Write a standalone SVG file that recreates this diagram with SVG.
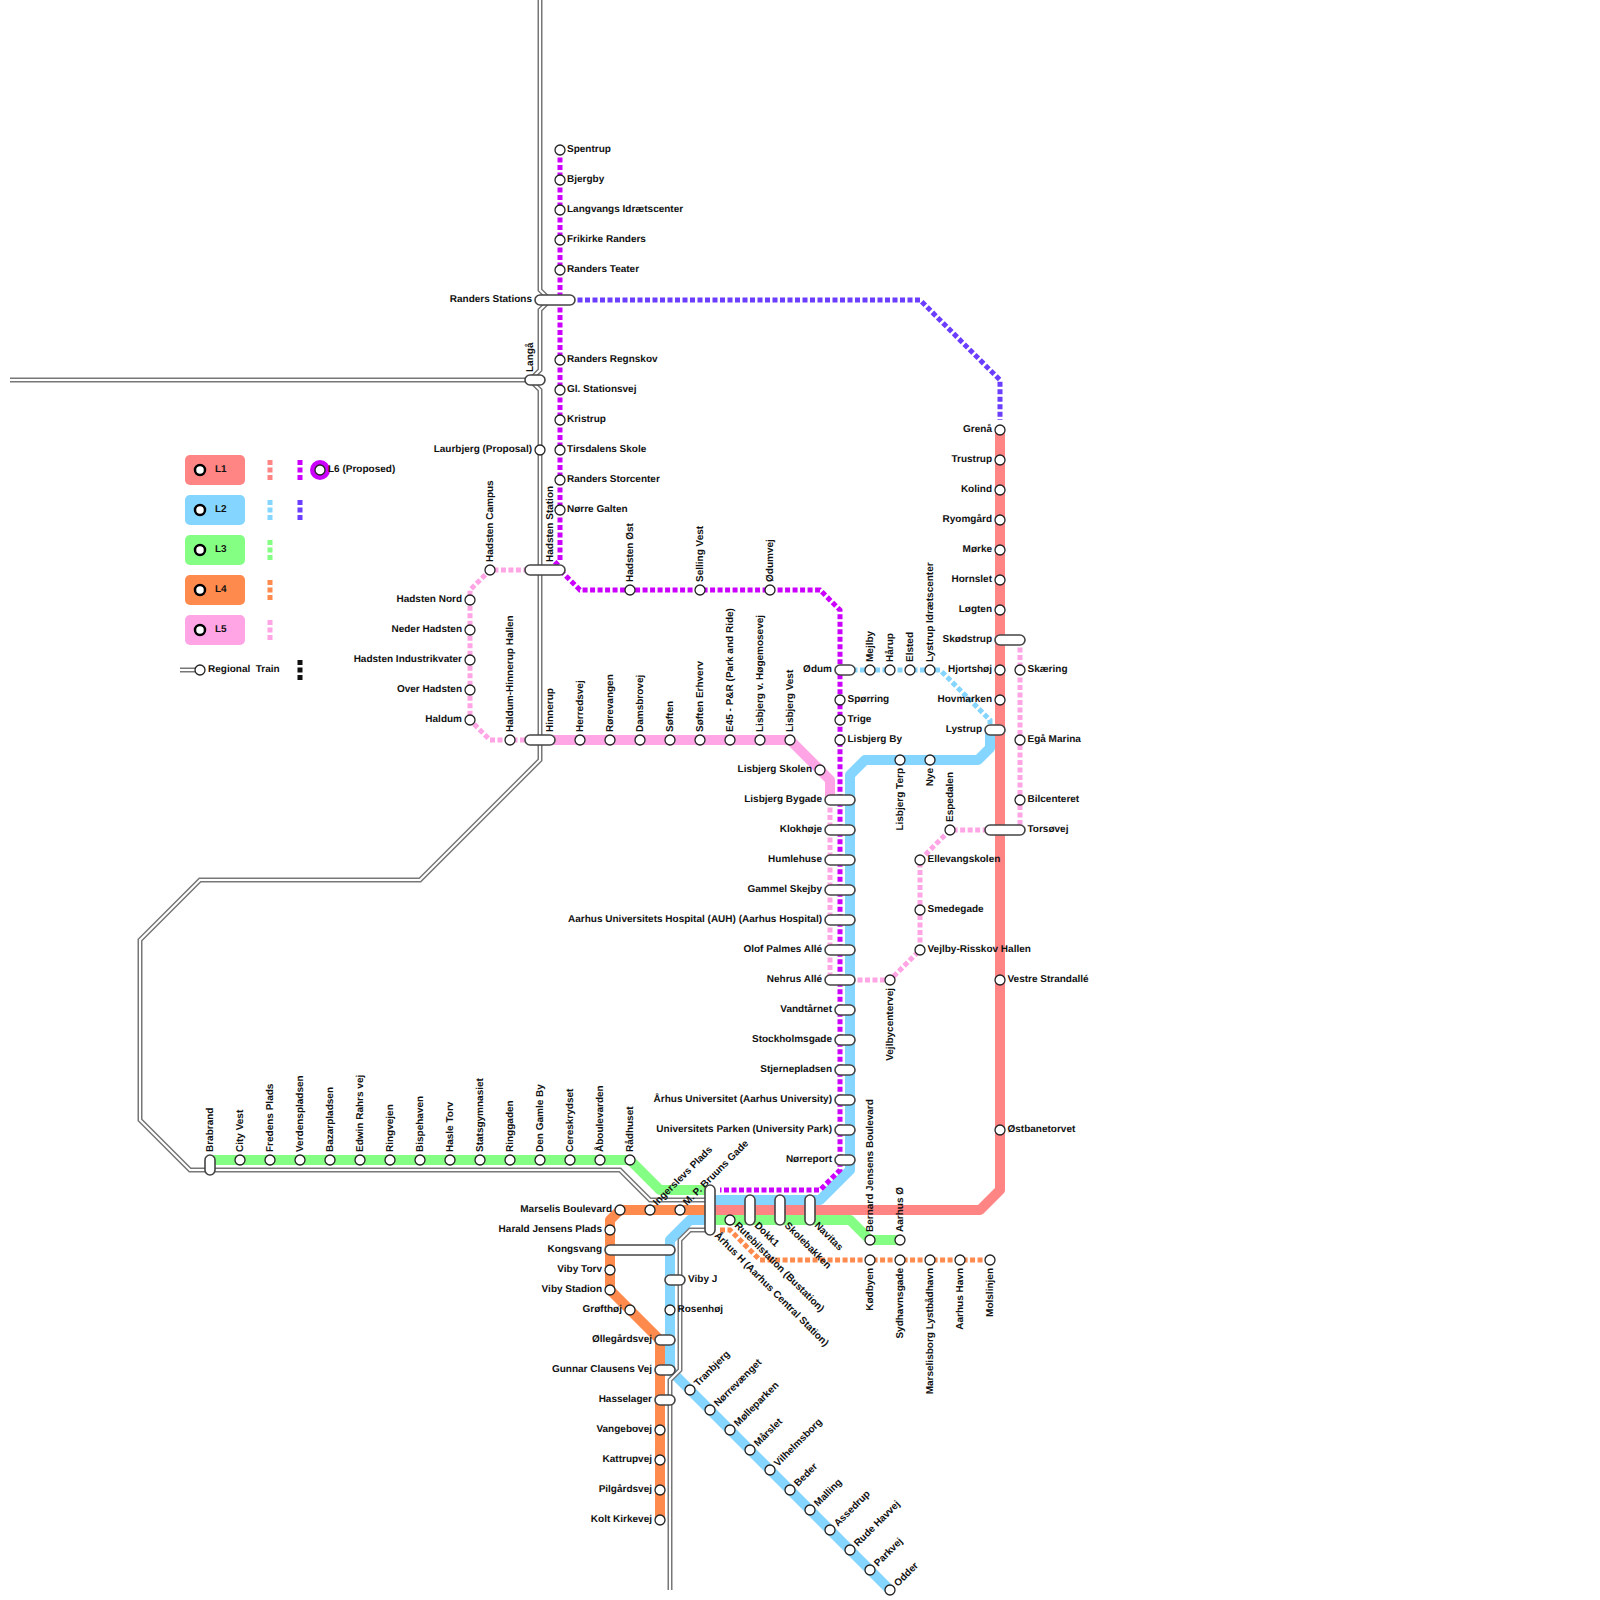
<svg xmlns="http://www.w3.org/2000/svg" width="1600" height="1600" viewBox="0 0 1600 1600">
<style>
text{font-family:"Liberation Sans",Arial,sans-serif;font-size:10px;font-weight:700;fill:#111;white-space:pre;text-rendering:geometricPrecision}
.e{text-anchor:end}
.ln{fill:none;stroke-linejoin:round;stroke-linecap:round;stroke-width:10}
.da{fill:none;stroke-width:5;stroke-dasharray:5 2.5}
.l1{stroke:#ff8484}.l2{stroke:#84d5ff}.l3{stroke:#84ff84}.l4{stroke:#ff8a4d}.l5{stroke:#ffa5e6}.l6{stroke:#cc00ff}.l7{stroke:#6a3dff}.l8{stroke:#111}
.ra{fill:none;stroke:#777;stroke-width:5;stroke-linejoin:miter}
.rb{fill:none;stroke:#fff;stroke-width:2;stroke-linejoin:miter}
circle{fill:#fff;stroke:#222;stroke-width:1.3}
.i{fill:#fff;stroke:#444;stroke-width:1.6}
.k{stroke:#000;stroke-width:2.5}
</style>
<defs>
<path id="rail" d="M540 0V290L550 300L540 310V370L530 380L540 390V760L420 880H200L140 940V1120L190 1170H620L650 1200H710M10 380H530M710 1230H690L680 1240V1370L670 1380V1590"/>
</defs>
<g id="connectors">
<path class="ln l2" d="M990 730V748L978 760H865L850 775V1170L820 1200H710"/>
<path class="ln l2" d="M710 1220H690L670 1240V1370L890 1590"/>
<path class="ln l3" d="M210 1160H630L660 1190H710"/>
<path class="ln l3" d="M710 1220H850L870 1240H900"/>
<path class="ln l1" d="M1000 430V1190L980 1210H710"/>
<path class="ln l4" d="M705 1210H620L610 1220V1290L660 1340V1520"/>
<path class="ln l5" d="M540 740H790L830 780V800"/>
<path class="da l2" d="M845 670H940L990 720V730"/>
<path class="da l4" d="M720 1230H730L760 1260H990"/>
<path class="da l5" d="M830 800V980"/>
<path class="da l5" d="M850 980H890L920 950V860L950 830H1000"/>
<path class="da l5" d="M1020 640V830"/>
<path class="da l5" d="M540 740H490L470 720V590L490 570H540"/>
<path class="da l6" d="M560 150V560L550 570H560L580 590H820L840 610V1170L820 1190H720"/>
<path class="da l7" d="M570 300H920L1000 380V420"/>
<use href="#rail" class="ra"/>
<use href="#rail" class="rb"/>
</g>
<g id="legend">
<rect x="185" y="455" width="60" height="30" rx="5" fill="#ff8484"/>
<rect x="185" y="495" width="60" height="30" rx="5" fill="#84d5ff"/>
<rect x="185" y="535" width="60" height="30" rx="5" fill="#84ff84"/>
<rect x="185" y="575" width="60" height="30" rx="5" fill="#ff8a4d"/>
<rect x="185" y="615" width="60" height="30" rx="5" fill="#ffa5e6"/>
<circle class="k" cx="200" cy="470" r="5"/><text x="215" y="472">L1</text>
<circle class="k" cx="200" cy="510" r="5"/><text x="215" y="512">L2</text>
<circle class="k" cx="200" cy="550" r="5"/><text x="215" y="552">L3</text>
<circle class="k" cx="200" cy="590" r="5"/><text x="215" y="592">L4</text>
<circle class="k" cx="200" cy="630" r="5"/><text x="215" y="632">L5</text>
<path class="da l1" d="M270 460V480"/><path class="da l2" d="M270 500V520"/><path class="da l3" d="M270 540V560"/><path class="da l4" d="M270 580V600"/><path class="da l5" d="M270 620V640"/>
<path class="da l6" d="M300 460V480"/><path class="da l7" d="M300 500V520"/><path class="da l8" d="M300 660V680"/>
<circle cx="320" cy="470" r="10" style="fill:#cc00ff;stroke:none"/><circle cx="320" cy="470" r="5"/><text x="328" y="472">L6 (Proposed)</text>
<path class="ra" d="M180 670H200"/><path class="rb" d="M180 670H200"/>
<circle cx="200" cy="670" r="5"/><text x="208" y="672">Regional  Train</text>
</g>
<g id="nodes">
<g id="spentrup"><circle cx="560" cy="150" r="5"/><text x="567" y="152">Spentrup</text></g>
<g id="bjergby"><circle cx="560" cy="180" r="5"/><text x="567" y="182">Bjergby</text></g>
<g id="langvangs"><circle cx="560" cy="210" r="5"/><text x="567" y="212">Langvangs Idrætscenter</text></g>
<g id="frikirke"><circle cx="560" cy="240" r="5"/><text x="567" y="242">Frikirke Randers</text></g>
<g id="teater"><circle cx="560" cy="270" r="5"/><text x="567" y="272">Randers Teater</text></g>
<g id="randers"><rect class="i" x="535" y="295" width="40" height="10" rx="5"/><text class="e" x="532" y="302">Randers Stations</text></g>
<g id="langa"><rect class="i" x="525" y="375" width="20" height="10" rx="5"/><text transform="translate(533 372) rotate(-90)">Langå</text></g>
<g id="regnskov"><circle cx="560" cy="360" r="5"/><text x="567" y="362">Randers Regnskov</text></g>
<g id="gl"><circle cx="560" cy="390" r="5"/><text x="567" y="392">Gl. Stationsvej</text></g>
<g id="kristrup"><circle cx="560" cy="420" r="5"/><text x="567" y="422">Kristrup</text></g>
<g id="tirsdalens"><circle cx="560" cy="450" r="5"/><text x="567" y="452">Tirsdalens Skole</text></g>
<g id="storcenter"><circle cx="560" cy="480" r="5"/><text x="567" y="482">Randers Storcenter</text></g>
<g id="galten"><circle cx="560" cy="510" r="5"/><text x="567" y="512">Nørre Galten</text></g>
<g id="laurbjerg"><circle cx="540" cy="450" r="5"/><text class="e" x="532" y="452">Laurbjerg (Proposal)</text></g>
<g id="hadsten"><rect class="i" x="525" y="565" width="40" height="10" rx="5"/><text transform="translate(553 562) rotate(-90)">Hadsten Station</text></g>
<g id="hcampus"><circle cx="490" cy="570" r="5"/><text transform="translate(493 562) rotate(-90)">Hadsten Campus</text></g>
<g id="hnord"><circle cx="470" cy="600" r="5"/><text class="e" x="462" y="602">Hadsten Nord</text></g>
<g id="neder"><circle cx="470" cy="630" r="5"/><text class="e" x="462" y="632">Neder Hadsten</text></g>
<g id="hind"><circle cx="470" cy="660" r="5"/><text class="e" x="462" y="662">Hadsten Industrikvater</text></g>
<g id="over"><circle cx="470" cy="690" r="5"/><text class="e" x="462" y="692">Over Hadsten</text></g>
<g id="haldum"><circle cx="470" cy="720" r="5"/><text class="e" x="462" y="722">Haldum</text></g>
<g id="hhh"><circle cx="510" cy="740" r="5"/><text transform="translate(513 732) rotate(-90)">Haldum-Hinnerup Hallen</text></g>
<g id="hinnerup"><rect class="i" x="525" y="735" width="30" height="10" rx="5"/><text transform="translate(553 732) rotate(-90)">Hinnerup</text></g>
<g id="herredsvej"><circle cx="580" cy="740" r="5"/><text transform="translate(583 732) rotate(-90)">Herredsvej</text></g>
<g id="rorevangen"><circle cx="610" cy="740" r="5"/><text transform="translate(613 732) rotate(-90)">Rørevangen</text></g>
<g id="damsbrovej"><circle cx="640" cy="740" r="5"/><text transform="translate(643 732) rotate(-90)">Damsbrovej</text></g>
<g id="soften"><circle cx="670" cy="740" r="5"/><text transform="translate(673 732) rotate(-90)">Søften</text></g>
<g id="softene"><circle cx="700" cy="740" r="5"/><text transform="translate(703 732) rotate(-90)">Søften Erhverv</text></g>
<g id="e45"><circle cx="730" cy="740" r="5"/><text transform="translate(733 732) rotate(-90)">E45 - P&amp;R (Park and Ride)</text></g>
<g id="hogemose"><circle cx="760" cy="740" r="5"/><text transform="translate(763 732) rotate(-90)">Lisbjerg v. Høgemosevej</text></g>
<g id="lvest"><circle cx="790" cy="740" r="5"/><text transform="translate(793 732) rotate(-90)">Lisbjerg Vest</text></g>
<g id="hoest"><circle cx="630" cy="590" r="5"/><text transform="translate(633 582) rotate(-90)">Hadsten Øst</text></g>
<g id="selling"><circle cx="700" cy="590" r="5"/><text transform="translate(703 582) rotate(-90)">Selling Vest</text></g>
<g id="odumvej"><circle cx="770" cy="590" r="5"/><text transform="translate(773 582) rotate(-90)">Ødumvej</text></g>
<g id="odum"><rect class="i" x="835" y="665" width="20" height="10" rx="5"/><text class="e" x="832" y="672">Ødum</text></g>
<g id="mejlby"><circle cx="870" cy="670" r="5"/><text transform="translate(873 662) rotate(-90)">Mejlby</text></g>
<g id="harup"><circle cx="890" cy="670" r="5"/><text transform="translate(893 662) rotate(-90)">Hårup</text></g>
<g id="elsted"><circle cx="910" cy="670" r="5"/><text transform="translate(913 662) rotate(-90)">Elsted</text></g>
<g id="lidr"><circle cx="930" cy="670" r="5"/><text transform="translate(933 662) rotate(-90)">Lystrup Idrætscenter</text></g>
<g id="sporring"><circle cx="840" cy="700" r="5"/><text x="847.500" y="702">Spørring</text></g>
<g id="trige"><circle cx="840" cy="720" r="5"/><text x="847.500" y="722">Trige</text></g>
<g id="lby"><circle cx="840" cy="740" r="5"/><text x="847.500" y="742">Lisbjerg By</text></g>
<g id="lskolen"><circle cx="820" cy="770" r="5"/><text class="e" x="812" y="772">Lisbjerg Skolen</text></g>
<g id="lbygade"><rect class="i" x="825" y="795" width="30" height="10" rx="5"/><text class="e" x="822" y="802">Lisbjerg Bygade</text></g>
<g id="klokhoje"><rect class="i" x="825" y="825" width="30" height="10" rx="5"/><text class="e" x="822" y="832">Klokhøje</text></g>
<g id="humle"><rect class="i" x="825" y="855" width="30" height="10" rx="5"/><text class="e" x="822" y="862">Humlehuse</text></g>
<g id="gskejby"><rect class="i" x="825" y="885" width="30" height="10" rx="5"/><text class="e" x="822" y="892">Gammel Skejby</text></g>
<g id="auh"><rect class="i" x="825" y="915" width="30" height="10" rx="5"/><text class="e" x="822" y="922">Aarhus Universitets Hospital (AUH) (Aarhus Hospital)</text></g>
<g id="olof"><rect class="i" x="825" y="945" width="30" height="10" rx="5"/><text class="e" x="822" y="952">Olof Palmes Allé</text></g>
<g id="nehrus"><rect class="i" x="825" y="975" width="30" height="10" rx="5"/><text class="e" x="822" y="982">Nehrus Allé</text></g>
<g id="vand"><rect class="i" x="835" y="1005" width="20" height="10" rx="5"/><text class="e" x="832" y="1012">Vandtårnet</text></g>
<g id="stock"><rect class="i" x="835" y="1035" width="20" height="10" rx="5"/><text class="e" x="832" y="1042">Stockholmsgade</text></g>
<g id="stjerne"><rect class="i" x="835" y="1065" width="20" height="10" rx="5"/><text class="e" x="832" y="1072">Stjernepladsen</text></g>
<g id="auni"><rect class="i" x="835" y="1095" width="20" height="10" rx="5"/><text class="e" x="832" y="1102">Århus Universitet (Aarhus University)</text></g>
<g id="upark"><rect class="i" x="835" y="1125" width="20" height="10" rx="5"/><text class="e" x="832" y="1132">Universitets Parken (University Park)</text></g>
<g id="norreport"><rect class="i" x="835" y="1155" width="20" height="10" rx="5"/><text class="e" x="832" y="1162">Nørreport</text></g>
<g id="grena"><circle cx="1000" cy="430" r="5"/><text class="e" x="992" y="432">Grenå</text></g>
<g id="trustrup"><circle cx="1000" cy="460" r="5"/><text class="e" x="992" y="462">Trustrup</text></g>
<g id="kolind"><circle cx="1000" cy="490" r="5"/><text class="e" x="992" y="492">Kolind</text></g>
<g id="ryomgard"><circle cx="1000" cy="520" r="5"/><text class="e" x="992" y="522">Ryomgård</text></g>
<g id="morke"><circle cx="1000" cy="550" r="5"/><text class="e" x="992" y="552">Mørke</text></g>
<g id="hornslet"><circle cx="1000" cy="580" r="5"/><text class="e" x="992" y="582">Hornslet</text></g>
<g id="logten"><circle cx="1000" cy="610" r="5"/><text class="e" x="992" y="612">Løgten</text></g>
<g id="skodstrup"><rect class="i" x="995" y="635" width="30" height="10" rx="5"/><text class="e" x="992" y="642">Skødstrup</text></g>
<g id="hjortshoj"><circle cx="1000" cy="670" r="5"/><text class="e" x="992" y="672">Hjortshøj</text></g>
<g id="hovmarken"><circle cx="1000" cy="700" r="5"/><text class="e" x="992" y="702">Hovmarken</text></g>
<g id="lystrup"><rect class="i" x="985" y="725" width="20" height="10" rx="5"/><text class="e" x="982" y="732">Lystrup</text></g>
<g id="torsovej"><rect class="i" x="985" y="825" width="40" height="10" rx="5"/><text x="1027.500" y="832">Torsøvej</text></g>
<g id="skaering"><circle cx="1020" cy="670" r="5"/><text x="1027.500" y="672">Skæring</text></g>
<g id="ega"><circle cx="1020" cy="740" r="5"/><text x="1027.500" y="742">Egå Marina</text></g>
<g id="bilcenteret"><circle cx="1020" cy="800" r="5"/><text x="1027.500" y="802">Bilcenteret</text></g>
<g id="vestre"><circle cx="1000" cy="980" r="5"/><text x="1007.500" y="982">Vestre Strandallé</text></g>
<g id="ostbane"><circle cx="1000" cy="1130" r="5"/><text x="1007.500" y="1132">Østbanetorvet</text></g>
<g id="lterp"><circle cx="900" cy="760" r="5"/><text class="e" transform="translate(903 768) rotate(-90)">Lisbjerg Terp</text></g>
<g id="nye"><circle cx="930" cy="760" r="5"/><text class="e" transform="translate(933 768) rotate(-90)">Nye</text></g>
<g id="espedalen"><circle cx="950" cy="830" r="5"/><text transform="translate(953 822) rotate(-90)">Espedalen</text></g>
<g id="ellevang"><circle cx="920" cy="860" r="5"/><text x="927.500" y="862">Ellevangskolen</text></g>
<g id="smedegade"><circle cx="920" cy="910" r="5"/><text x="927.500" y="912">Smedegade</text></g>
<g id="vrh"><circle cx="920" cy="950" r="5"/><text x="927.500" y="952">Vejlby-Risskov Hallen</text></g>
<g id="vejlbyc"><circle cx="890" cy="980" r="5"/><text class="e" transform="translate(893 988) rotate(-90)">Vejlbycentervej</text></g>
<g id="brabrand"><rect class="i" x="205" y="1155" width="10" height="20" rx="5"/><text transform="translate(213 1152) rotate(-90)">Brabrand</text></g>
<g id="cityvest"><circle cx="240" cy="1160" r="5"/><text transform="translate(243 1152) rotate(-90)">City Vest</text></g>
<g id="fredens"><circle cx="270" cy="1160" r="5"/><text transform="translate(273 1152) rotate(-90)">Fredens Plads</text></g>
<g id="verdens"><circle cx="300" cy="1160" r="5"/><text transform="translate(303 1152) rotate(-90)">Verdenspladsen</text></g>
<g id="bazar"><circle cx="330" cy="1160" r="5"/><text transform="translate(333 1152) rotate(-90)">Bazarpladsen</text></g>
<g id="edwin"><circle cx="360" cy="1160" r="5"/><text transform="translate(363 1152) rotate(-90)">Edwin Rahrs vej</text></g>
<g id="ringvejen"><circle cx="390" cy="1160" r="5"/><text transform="translate(393 1152) rotate(-90)">Ringvejen</text></g>
<g id="bispehaven"><circle cx="420" cy="1160" r="5"/><text transform="translate(423 1152) rotate(-90)">Bispehaven</text></g>
<g id="hasle"><circle cx="450" cy="1160" r="5"/><text transform="translate(453 1152) rotate(-90)">Hasle Torv</text></g>
<g id="stats"><circle cx="480" cy="1160" r="5"/><text transform="translate(483 1152) rotate(-90)">Statsgymnasiet</text></g>
<g id="ringgaden"><circle cx="510" cy="1160" r="5"/><text transform="translate(513 1152) rotate(-90)">Ringgaden</text></g>
<g id="gamleby"><circle cx="540" cy="1160" r="5"/><text transform="translate(543 1152) rotate(-90)">Den Gamle By</text></g>
<g id="ceres"><circle cx="570" cy="1160" r="5"/><text transform="translate(573 1152) rotate(-90)">Cereskrydset</text></g>
<g id="abou"><circle cx="600" cy="1160" r="5"/><text transform="translate(603 1152) rotate(-90)">Åboulevarden</text></g>
<g id="radhuset"><circle cx="630" cy="1160" r="5"/><text transform="translate(633 1152) rotate(-90)">Rådhuset</text></g>
<g id="marselis"><circle cx="620" cy="1210" r="5"/><text class="e" x="612" y="1212">Marselis Boulevard</text></g>
<g id="ingerslev"><circle cx="650" cy="1210" r="5"/><text transform="translate(657 1206) rotate(-45)">Ingerslevs Plads</text></g>
<g id="mpb"><circle cx="680" cy="1210" r="5"/><text transform="translate(687 1206) rotate(-45)">M. P. Bruuns Gade</text></g>
<g id="harald"><circle cx="610" cy="1230" r="5"/><text class="e" x="602" y="1232">Harald Jensens Plads</text></g>
<g id="kongsvang"><rect class="i" x="605" y="1245" width="70" height="10" rx="5"/><text class="e" x="602" y="1252">Kongsvang</text></g>
<g id="vibytorv"><circle cx="610" cy="1270" r="5"/><text class="e" x="602" y="1272">Viby Torv</text></g>
<g id="vibystad"><circle cx="610" cy="1290" r="5"/><text class="e" x="602" y="1292">Viby Stadion</text></g>
<g id="grofthoj"><circle cx="630" cy="1310" r="5"/><text class="e" x="622" y="1312">Grøfthøj</text></g>
<g id="ollegard"><rect class="i" x="655" y="1335" width="20" height="10" rx="5"/><text class="e" x="652" y="1342">Øllegårdsvej</text></g>
<g id="gunnar"><rect class="i" x="655" y="1365" width="20" height="10" rx="5"/><text class="e" x="652" y="1372">Gunnar Clausens Vej</text></g>
<g id="hasselager"><rect class="i" x="655" y="1395" width="20" height="10" rx="5"/><text class="e" x="652" y="1402">Hasselager</text></g>
<g id="vangebovej"><circle cx="660" cy="1430" r="5"/><text class="e" x="652" y="1432">Vangebovej</text></g>
<g id="kattrup"><circle cx="660" cy="1460" r="5"/><text class="e" x="652" y="1462">Kattrupvej</text></g>
<g id="pilgard"><circle cx="660" cy="1490" r="5"/><text class="e" x="652" y="1492">Pilgårdsvej</text></g>
<g id="kolt"><circle cx="660" cy="1520" r="5"/><text class="e" x="652" y="1522">Kolt Kirkevej</text></g>
<g id="vibyj"><rect class="i" x="665" y="1275" width="20" height="10" rx="5"/><text x="688" y="1282">Viby J</text></g>
<g id="rosenhoj"><circle cx="670" cy="1310" r="5"/><text x="677.500" y="1312">Rosenhøj</text></g>
<g id="aarhush"><rect class="i" x="705" y="1185" width="10" height="50" rx="5"/><text transform="translate(714 1236) rotate(45)">Århus H (Aarhus Central Station)</text></g>
<g id="rutebil"><circle cx="730" cy="1220" r="5"/><text transform="translate(734 1226) rotate(45)">Rutebilstation (Bustation)</text></g>
<g id="dokk1"><rect class="i" x="745" y="1195" width="10" height="30" rx="5"/><text transform="translate(754 1226) rotate(45)">Dokk1</text></g>
<g id="skolebakken"><rect class="i" x="775" y="1195" width="10" height="30" rx="5"/><text transform="translate(784 1226) rotate(45)">Skolebakken</text></g>
<g id="navitas"><rect class="i" x="805" y="1195" width="10" height="30" rx="5"/><text transform="translate(814 1226) rotate(45)">Navitas</text></g>
<g id="bernard"><circle cx="870" cy="1240" r="5"/><text transform="translate(873 1232) rotate(-90)">Bernard Jensens Boulevard</text></g>
<g id="aarhuso"><circle cx="900" cy="1240" r="5"/><text transform="translate(903 1232) rotate(-90)">Aarhus Ø</text></g>
<g id="kodbyen"><circle cx="870" cy="1260" r="5"/><text class="e" transform="translate(873 1268) rotate(-90)">Kødbyen</text></g>
<g id="sydhavn"><circle cx="900" cy="1260" r="5"/><text class="e" transform="translate(903 1268) rotate(-90)">Sydhavnsgade</text></g>
<g id="lystbad"><circle cx="930" cy="1260" r="5"/><text class="e" transform="translate(933 1268) rotate(-90)">Marselisborg Lystbådhavn</text></g>
<g id="havn"><circle cx="960" cy="1260" r="5"/><text class="e" transform="translate(963 1268) rotate(-90)">Aarhus Havn</text></g>
<g id="mols"><circle cx="990" cy="1260" r="5"/><text class="e" transform="translate(993 1268) rotate(-90)">Molslinjen</text></g>
<g id="tranbjerg"><circle cx="690" cy="1390" r="5"/><text transform="translate(698 1387) rotate(-45)">Tranbjerg</text></g>
<g id="norrevaenget"><circle cx="710" cy="1410" r="5"/><text transform="translate(718 1407) rotate(-45)">Nørrevænget</text></g>
<g id="molleparken"><circle cx="730" cy="1430" r="5"/><text transform="translate(738 1427) rotate(-45)">Mølleparken</text></g>
<g id="marslet"><circle cx="750" cy="1450" r="5"/><text transform="translate(758 1447) rotate(-45)">Mårslet</text></g>
<g id="vilhelm"><circle cx="770" cy="1470" r="5"/><text transform="translate(778 1467) rotate(-45)">Vilhelmsborg</text></g>
<g id="beder"><circle cx="790" cy="1490" r="5"/><text transform="translate(798 1487) rotate(-45)">Beder</text></g>
<g id="malling"><circle cx="810" cy="1510" r="5"/><text transform="translate(818 1507) rotate(-45)">Malling</text></g>
<g id="assedrup"><circle cx="830" cy="1530" r="5"/><text transform="translate(838 1527) rotate(-45)">Assedrup</text></g>
<g id="rude"><circle cx="850" cy="1550" r="5"/><text transform="translate(858 1547) rotate(-45)">Rude Havvej</text></g>
<g id="parkvej"><circle cx="870" cy="1570" r="5"/><text transform="translate(878 1567) rotate(-45)">Parkvej</text></g>
<g id="odder"><circle cx="890" cy="1590" r="5"/><text transform="translate(898 1587) rotate(-45)">Odder</text></g>
</g>
</svg>
